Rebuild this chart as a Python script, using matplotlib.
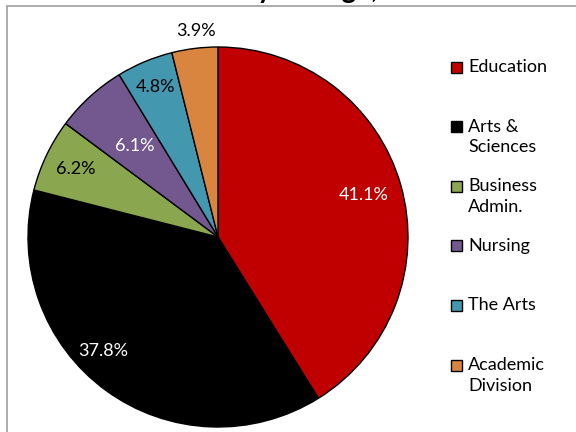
import numpy as np
import matplotlib
matplotlib.use('Agg')
import matplotlib.pyplot as plt
from matplotlib.patches import Rectangle

plt.rcParams['font.family'] = ['Lato', 'DejaVu Sans']

# ---- data ----
colleges = ['Education', 'Arts &\nSciences', 'Business\nAdmin.', 'Nursing', 'The Arts', 'Academic\nDivision']
shares = [41.1, 37.8, 6.2, 6.1, 4.8, 3.9]
colors = ['#C00000', '#000000', '#8AA64E', '#72588F', '#4397AE', '#D9843F']
label_colors = ['white', 'white', 'black', 'white', 'black', 'black']
title = 'Enrollment by College, Fall 2012'

fig = plt.figure(figsize=(5.76, 4.32), dpi=100)

# outer grey frame (only left and top edges are inside the picture)
fig.add_artist(Rectangle((7 / 576, -0.1), 1.0, 1 - 6.5 / 432 + 0.1,
                         transform=fig.transFigure, fill=False,
                         ec='#a6a6a6', lw=1.3))

# title, mostly cut off by the top edge
fig.text(0.52, 1 + 1.5 / 432, title, ha='center', va='baseline',
         fontsize=20, fontweight='bold')

# ---- pie ----
ax = fig.add_axes([(218 - 190) / 576, (432 - 237 - 190) / 432, 380 / 576, 380 / 432])
wedges, _ = ax.pie(shares, colors=colors, startangle=90, counterclock=False,
                   radius=1.0, wedgeprops=dict(edgecolor='black', linewidth=1.0))
ax.set_xlim(-1, 1)
ax.set_ylim(-1, 1)
ax.axis('off')

# percentage labels (Excel "best fit" style placement)
label_r = [0.80, 0.85, 0.83, 0.65, 0.855, 1.09]
label_shift = [0, -9, 0, 0, 0, -1]
for w, val, r, sh, c in zip(wedges, shares, label_r, label_shift, label_colors):
    ang = np.deg2rad((w.theta1 + w.theta2) / 2 + sh)
    ax.text(r * np.cos(ang), r * np.sin(ang), '%.1f%%' % val,
            ha='center', va='center', fontsize=13, color=c, clip_on=False)

# ---- legend (drawn by hand to mimic Excel layout) ----
y0 = 67
step = 59.6
for i, (name, c) in enumerate(zip(colleges, colors)):
    yc = y0 + i * step
    fig.add_artist(Rectangle((451 / 576, 1 - (yc + 5.5) / 432), 11 / 576, 11 / 432,
                             transform=fig.transFigure, fc=c, ec='black', lw=1.0))
    fig.text(468 / 576, 1 - (yc - 8) / 432, name, ha='left', va='top',
             fontsize=13, linespacing=1.35)

fig.savefig('out.png', dpi=100)
